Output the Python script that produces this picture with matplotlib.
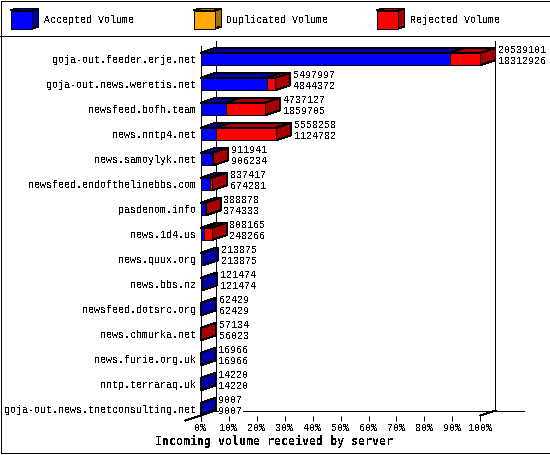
import matplotlib
matplotlib.use("Agg")
import matplotlib.pyplot as plt
from matplotlib.patches import Polygon, Rectangle

servers = ["goja-out.feeder.erje.net", "goja-out.news.weretis.net", "newsfeed.bofh.team",
           "news.nntp4.net", "news.samoylyk.net", "newsfeed.endofthelinebbs.com",
           "pasdenom.info", "news.1d4.us", "news.quux.org", "news.bbs.nz",
           "newsfeed.dotsrc.org", "news.chmurka.net", "news.furie.org.uk",
           "nntp.terraraq.uk", "goja-out.news.tnetconsulting.net"]
total_volume = [20539101, 5497997, 4737127, 5558258, 911941, 837417, 388878, 808165,
                213875, 121474, 62429, 57134, 16966, 14220, 9007]
accepted_volume = [18312926, 4844372, 1859705, 1124782, 906234, 674281, 374333, 248266,
                   213875, 121474, 62429, 56023, 16966, 14220, 9007]
percent_ticks = [0, 10, 20, 30, 40, 50, 60, 70, 80, 90, 100]
legend_names = ["Accepted Volume", "Duplicated Volume", "Rejected Volume"]

BLUE, DARK_BLUE = "#0000ff", "#0000a8"
ORANGE, DARK_ORANGE = "#ffaa00", "#a87000"
RED, DARK_RED = "#ff0000", "#a80000"

plt.rcParams["font.family"] = "Liberation Mono"
plt.rcParams["text.antialiased"] = False
plt.rcParams["patch.antialiased"] = False
plt.rcParams["lines.antialiased"] = False

W, H = 550, 455
LW = 0.72   # one pixel at 100 dpi
FS = 7.2
fig = plt.figure(figsize=(5.5, 4.55), dpi=100, facecolor="white")

# overlay in pixel units for the frame and the legend
page = fig.add_axes([0, 0, 1, 1])
page.set_xlim(0, W)
page.set_ylim(H, 0)
page.axis("off")
page.add_patch(Rectangle((0.5, 0.5), W - 1, H - 3, fc="none", ec="black", lw=LW))
page.plot([0, W], [35.5, 35.5], color="black", lw=LW)

legend_colors = [(BLUE, DARK_BLUE), (ORANGE, DARK_ORANGE), (RED, DARK_RED)]
for name, (front, dark), left in zip(legend_names, legend_colors, [10.5, 193.5, 376.5]):
    right = left + 21
    page.add_patch(Polygon([(right, 10.5), (right + 7, 8.5), (right + 7, 26.5), (right, 28.5)],
                           fc=dark, ec="black", lw=LW))
    page.add_patch(Polygon([(left, 10.5), (left + 7, 8.5), (right + 7, 8.5), (right, 10.5)],
                           fc=dark, ec="black", lw=LW))
    page.add_patch(Rectangle((left, 10.5), 21, 18, fc=front, ec="black", lw=LW))
    page.text(right + 12, 20, name, fontsize=FS, va="center", ha="left")

page.text(274, 441, "Incoming volume received by server", fontsize=8.4,
          fontweight="bold", family="DejaVu Sans Mono", ha="center", va="center")

# chart axes: x is percent of the largest server, y is the server index
ax = fig.add_axes([200.5 / W, 1 - 415.5 / H, 280 / W, 370 / H])
ax.patch.set_alpha(0)
ax.set_xlim(0, 100)
ax.set_ylim(14.26, -0.54)
for spine in ax.spines.values():
    spine.set_visible(False)

DX = 15 / 2.8      # depth of the 3d effect in percent units
DY = 5 / 25        # depth in server-index units
HALF = 0.25


def draw_segment(x0, x1, y, front, dark):
    top, bot = y - HALF, y + HALF
    ax.add_patch(Polygon([(x1, top), (x1 + DX, top - DY), (x1 + DX, bot - DY), (x1, bot)],
                         fc=dark, ec="black", lw=LW, clip_on=False, zorder=3))
    ax.add_patch(Polygon([(x0, top), (x0 + DX, top - DY), (x1 + DX, top - DY), (x1, top)],
                         fc=dark, ec="black", lw=LW, clip_on=False, zorder=3))
    ax.add_patch(Rectangle((x0, top), x1 - x0, bot - top, fc=front, ec="black", lw=LW,
                           clip_on=False, zorder=3))


# walls of the 3d frame
y_bot, y_top = ax.get_ylim()
wall = dict(color="black", lw=LW, clip_on=False, zorder=1)
ax.plot([0, 0], [y_bot + 0.2, y_top], **wall)
ax.plot([DX, DX], [y_bot - DY, y_top - DY], **wall)
ax.plot([100 + DX, 100 + DX], [y_bot - DY, y_top - DY], **wall)
ax.plot([DX, 100 + DX + 10], [y_bot - DY, y_bot - DY], **wall)
ax.plot([-DX, DX], [y_bot + DY, y_bot - DY], **wall)
ax.plot([100, 100 + DX], [y_bot, y_bot - DY], **wall)

largest = max(total_volume)
for i, (tot, acc) in enumerate(zip(total_volume, accepted_volume)):
    acc_pct = acc / largest * 100
    tot_pct = tot / largest * 100
    draw_segment(0, acc_pct, i, BLUE, DARK_BLUE)
    if tot > acc:
        draw_segment(acc_pct, tot_pct, i, RED, DARK_RED)
    for val, off in [(tot, -0.36), (acc, 0.08)]:
        ax.annotate(str(val), (tot_pct + DX, i + off), xytext=(3, 0),
                    textcoords="offset pixels", fontsize=FS, va="center", ha="left",
                    bbox=dict(fc="white", ec="none", pad=0), zorder=4, annotation_clip=False)

ax.set_xticks(percent_ticks)
ax.set_xticklabels([f"{p}%" for p in percent_ticks], fontsize=FS)
ax.set_yticks(range(len(servers)))
ax.set_yticklabels(servers, fontsize=FS)
ax.tick_params(axis="x", length=3.6, width=LW, pad=2, direction="out")
ax.tick_params(axis="y", length=0, pad=3)

fig.savefig("out.png", dpi=100)
